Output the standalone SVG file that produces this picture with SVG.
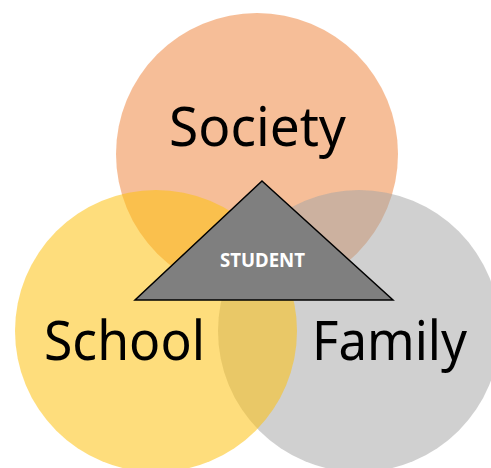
<svg xmlns="http://www.w3.org/2000/svg" width="491" height="468" viewBox="0 0 491 468">
<style>
.lbl{font-family:"Noto Sans","Open Sans","Liberation Sans",sans-serif;fill:#000;text-anchor:middle}
.big{font-size:55px}
.stu{font-family:"Noto Sans","Open Sans","Liberation Sans",sans-serif;font-size:19px;font-weight:bold;fill:#fff;text-anchor:middle}
</style>
<rect width="491" height="468" fill="#fff"/>
<g id="society">
<circle cx="257" cy="154" r="141" fill="#ED7D31" fill-opacity="0.5"/>
</g>
<g id="family">
<circle cx="359" cy="331" r="141" fill="#A5A5A5" fill-opacity="0.52"/>
</g>
<g id="school">
<circle cx="156" cy="331" r="141" fill="#FDC110" fill-opacity="0.55"/>
</g>
<g id="society-label"><text class="lbl big" x="257.5" y="146" textLength="177" lengthAdjust="spacingAndGlyphs">Society</text></g>
<g id="school-label"><text class="lbl big" x="124.5" y="360" textLength="161" lengthAdjust="spacingAndGlyphs">School</text></g>
<g id="family-label"><text class="lbl big" x="389.5" y="360" textLength="155" lengthAdjust="spacingAndGlyphs">Family</text></g>
<g id="student">
<polygon points="262,181 393,300 135,300" fill="#7F7F7F" stroke="#000" stroke-width="1.5" stroke-linejoin="miter"/>
<text class="stu" x="262.5" y="267" textLength="85" lengthAdjust="spacingAndGlyphs">STUDENT</text>
</g>
</svg>
